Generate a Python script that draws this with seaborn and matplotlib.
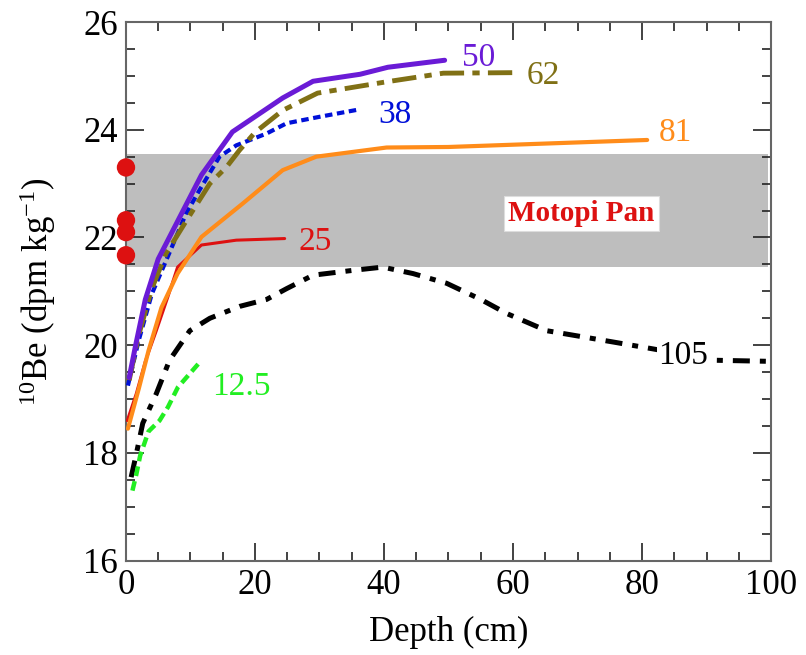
import numpy as np
import pandas as pd
import matplotlib
matplotlib.use("Agg")
import matplotlib.pyplot as plt
from matplotlib.ticker import MultipleLocator
import seaborn as sns

# depth profiles of 10Be, one per label (depth in cm, value in dpm/kg)
depth_50 = [0.5, 1.5, 3, 5, 8, 11.7, 16.5, 24.3, 29, 36.3, 40.6, 49.4]
be_50 = [19.4, 20.0, 20.85, 21.6, 22.3, 23.16, 23.96, 24.59, 24.9, 25.03, 25.16, 25.29]

depth_62 = [0.5, 2, 4, 6.2, 9.3, 13, 15.6, 17.6, 20, 24.3, 29.7, 40.4, 49.2, 60.3]
be_62 = [19.35, 20.2, 21.05, 21.7, 22.3, 23.0, 23.31, 23.62, 23.95, 24.36, 24.68, 24.89, 25.05, 25.06]

depth_38 = [0.3, 2, 4, 6.75, 9.3, 11.4, 14.5, 17.1, 21.8, 24.9, 30, 36.3]
be_38 = [19.25, 20.1, 20.95, 21.72, 22.44, 22.88, 23.5, 23.71, 23.93, 24.12, 24.24, 24.38]

depth_81 = [0.3, 2, 3.5, 5.5, 8, 11.7, 18.1, 24.3, 29.5, 40.4, 50, 80.8]
be_81 = [18.45, 19.2, 19.9, 20.7, 21.33, 22.01, 22.63, 23.25, 23.5, 23.67, 23.68, 23.81]

depth_25 = [0.2, 1.6, 3, 4.7, 6.5, 8, 11.7, 17.1, 24.6]
be_25 = [18.6, 19.1, 19.7, 20.27, 20.9, 21.45, 21.86, 21.95, 21.98]

depth_105 = [0.8, 1.6, 2.6, 4.7, 6.75, 9.9, 13, 17.6, 21.8, 24.9, 29, 35.2, 39.8,
             44.5, 49.7, 55, 59, 65.2, 75.5, 81.3, 91.6, 100]
be_105 = [17.55, 17.98, 18.55, 19.1, 19.72, 20.27, 20.5, 20.72, 20.85, 21.05, 21.3, 21.39, 21.45,
          21.33, 21.15, 20.85, 20.59, 20.27, 20.06, 19.94, 19.72, 19.7]

depth_12 = [1.0, 1.6, 2.2, 3.5, 5.2, 6.5, 8.05, 11.7]
be_12 = [17.3, 17.6, 17.95, 18.4, 18.6, 18.85, 19.22, 19.72]

# Motopi Pan surface samples and range
motopi_depth = [0, 0, 0, 0]
motopi_be = [23.3, 22.32, 22.1, 21.67]
motopi_low, motopi_high = 21.45, 23.55

sns.set_style("ticks")
plt.rcParams["font.family"] = ["Liberation Serif", "DejaVu Serif"]
plt.rcParams["mathtext.fontset"] = "custom"
plt.rcParams["mathtext.rm"] = "Liberation Serif"
plt.rcParams["mathtext.it"] = "Liberation Serif:italic"
for k in ["text.color", "axes.labelcolor", "xtick.color", "ytick.color"]:
    plt.rcParams[k] = "black"

fig = plt.figure(figsize=(8.06, 6.55), dpi=100)
ax = fig.add_axes([0.1563, 0.144, 0.8003, 0.8224])

ax.axhspan(motopi_low, motopi_high, xmin=0, xmax=0.996, color="#bebebe", lw=0, zorder=0)

curves = [
    (depth_105, be_105, "black", 3.6, (3.4, 2.0, 1.2, 2.0)),
    (depth_12, be_12, "#22ee22", 3.2, (2.2, 1.2)),
    (depth_25, be_25, "#dd1111", 2.2, None),
    (depth_81, be_81, "#ff8c1a", 3.0, None),
    (depth_38, be_38, "#0010d8", 3.0, (1.8, 1.1)),
    (depth_62, be_62, "#807015", 3.5, (5.0, 1.7, 1.5, 1.7)),
    (depth_50, be_50, "#6a1bd6", 3.6, None),
]
for xs, ys, col, lw, dash in curves:
    kw = {} if dash is None else {"dashes": dash}
    sns.lineplot(x=xs, y=ys, color=col, lw=lw, sort=False, ax=ax, zorder=3, **kw)

sns.scatterplot(x=motopi_depth, y=motopi_be, color="#dd1111", s=175, edgecolor="none",
                clip_on=False, zorder=5, ax=ax)

lab = dict(fontsize=24, ha="center", va="center", zorder=4)
ax.text(54.6, 25.33, "50", color="#6a1bd6", **lab)
ax.text(64.7, 25.0, "62", color="#807015", **lab)
ax.text(41.7, 24.27, "38", color="#0010d8", **lab)
ax.text(85.2, 23.94, "81", color="#ff8c1a",
        bbox=dict(facecolor="white", edgecolor="none", pad=1), **lab)
ax.text(29.3, 21.92, "25", color="#dd1111", **lab)
ax.text(86.4, 19.81, "105", color="black",
        bbox=dict(facecolor="white", edgecolor="none", pad=1), **lab)
ax.text(17.9, 19.23, "12.5", color="#22ee22", **lab)
ax.text(70.6, 22.45, "Motopi Pan", color="#dd1111", fontsize=21, fontweight="bold",
        ha="center", va="center", zorder=4,
        bbox=dict(facecolor="white", edgecolor="#dddddd", lw=0.8, pad=3))

ax.set_xlim(0, 100)
ax.set_ylim(16, 26)
ax.xaxis.set_major_locator(MultipleLocator(20))
ax.xaxis.set_minor_locator(MultipleLocator(5))
ax.yaxis.set_major_locator(MultipleLocator(2))
ax.yaxis.set_minor_locator(MultipleLocator(0.5))
ax.tick_params(which="both", direction="in", top=True, right=True, labelsize=25,
               color="#222222", width=1.2)
ax.tick_params(which="major", length=13, pad=6)
ax.tick_params(which="minor", length=6.5)
for sp in ax.spines.values():
    sp.set_color("#666666")
    sp.set_linewidth(1.5)

ax.set_xlabel("Depth (cm)", fontsize=25, labelpad=10)
ax.set_ylabel("$^{10}$Be (dpm kg$^{-1}$)", fontsize=25, labelpad=18)

fig.savefig("out.png", dpi=100)
